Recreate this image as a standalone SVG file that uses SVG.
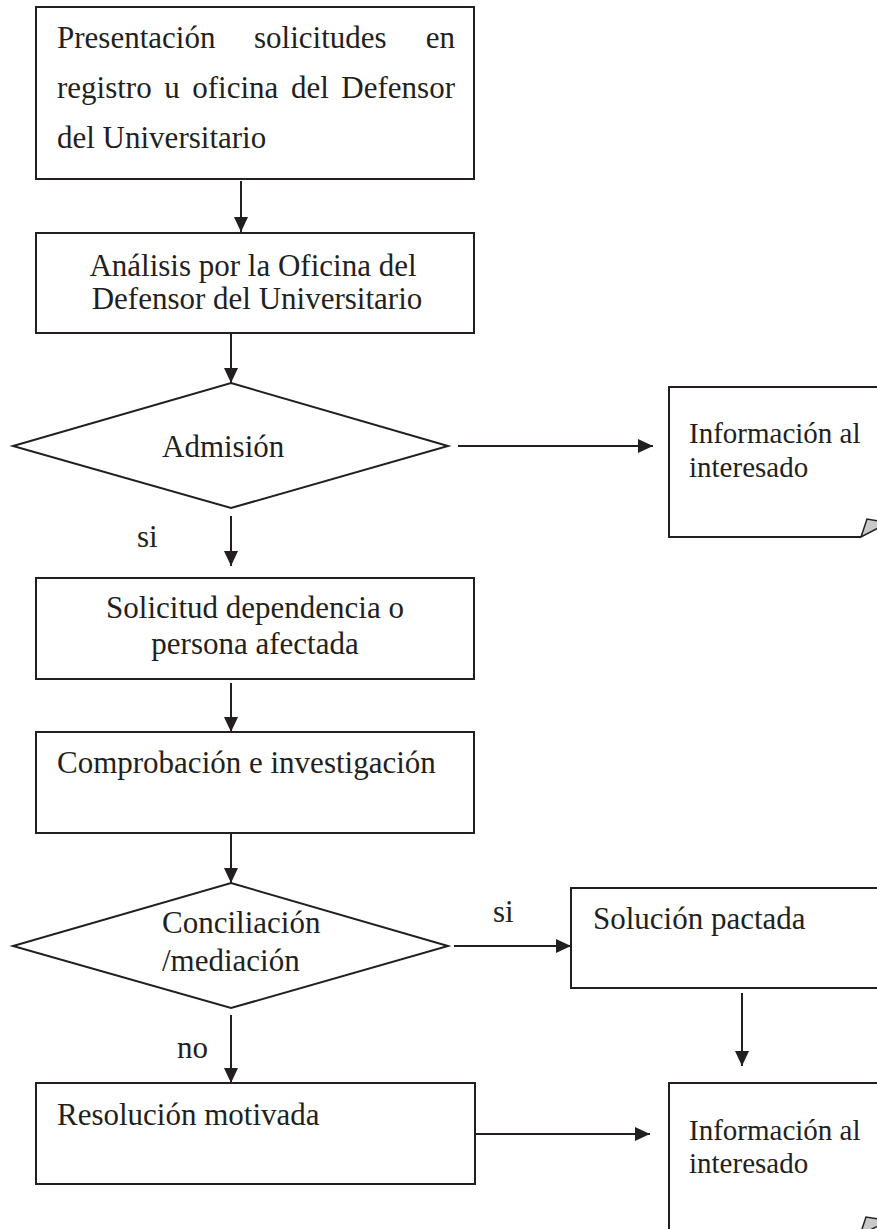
<svg xmlns="http://www.w3.org/2000/svg" width="877" height="1229" viewBox="0 0 877 1229">
<defs>
<style>
.box{fill:#fff;stroke:#231f20;stroke-width:2}
.edge{fill:none;stroke:#231f20;stroke-width:2}
.curl{fill:#c9c9c9;stroke:#231f20;stroke-width:1.5;stroke-linejoin:miter}
.t{font-family:"Liberation Serif","Times New Roman",serif;font-size:31px;fill:#231f20}
.s{font-size:29px}
.c{text-anchor:middle}
</style>
<marker id="arr" markerUnits="userSpaceOnUse" markerWidth="16" markerHeight="16" viewBox="0 0 16 16" refX="15" refY="8" orient="auto">
<path d="M0,1 L15,8 L0,15 Z" fill="#231f20"/>
</marker>
</defs>
<rect width="877" height="1229" fill="#fff"/>

<g id="connectors">
<line class="edge" x1="241" y1="181" x2="241" y2="232" marker-end="url(#arr)"/>
<line class="edge" x1="231" y1="334" x2="231" y2="383" marker-end="url(#arr)"/>
<line class="edge" x1="458" y1="446" x2="653" y2="446" marker-end="url(#arr)"/>
<line class="edge" x1="231" y1="516" x2="231" y2="566" marker-end="url(#arr)"/>
<line class="edge" x1="231" y1="683" x2="231" y2="732" marker-end="url(#arr)"/>
<line class="edge" x1="231" y1="834" x2="231" y2="883" marker-end="url(#arr)"/>
<line class="edge" x1="454" y1="946" x2="571" y2="946" marker-end="url(#arr)"/>
<line class="edge" x1="231" y1="1015" x2="231" y2="1083" marker-end="url(#arr)"/>
<line class="edge" x1="742" y1="993" x2="742" y2="1066" marker-end="url(#arr)"/>
<line class="edge" x1="475" y1="1134" x2="650" y2="1134" marker-end="url(#arr)"/>
<text class="t" x="137" y="547">si</text>
<text class="t" x="493" y="922">si</text>
<text class="t" x="177" y="1058">no</text>
</g>

<g id="n1">
<rect class="box" x="36" y="7" width="438" height="172"/>
<text class="t" x="57" y="48">Presentación</text>
<text class="t" x="254" y="48">solicitudes</text>
<text class="t" x="455" y="48" text-anchor="end">en</text>
<text class="t" x="57" y="98" word-spacing="4.8">registro u oficina del Defensor</text>
<text class="t" x="57" y="148">del Universitario</text>
</g>

<g id="n2">
<rect class="box" x="36" y="233" width="438" height="100"/>
<text class="t c" x="253" y="276">Análisis por la Oficina del</text>
<text class="t c" x="257" y="309">Defensor del Universitario</text>
</g>

<g id="n3">
<polygon class="box" points="231,383 448,446 231,508 13,446"/>
<text class="t" x="162" y="457">Admisión</text>
</g>

<g id="n4">
<path class="box" d="M878,387 L669,387 L669,537 L861,537"/>
<path class="curl" d="M861,537 L867,519 L878,521 L878,528 Z"/>
<text class="t s" x="689" y="443">Información al</text>
<text class="t s" x="689" y="477">interesado</text>
</g>

<g id="n5">
<rect class="box" x="36" y="578" width="438" height="101"/>
<text class="t c" x="255" y="618">Solicitud dependencia o</text>
<text class="t c" x="255" y="654">persona afectada</text>
</g>

<g id="n6">
<rect class="box" x="36" y="732" width="438" height="101"/>
<text class="t" x="57" y="773">Comprobación e investigación</text>
</g>

<g id="n7">
<polygon class="box" points="231,883 448,946 231,1008 13,946"/>
<text class="t" x="162" y="933">Conciliación</text>
<text class="t" x="162" y="971">/mediación</text>
</g>

<g id="n8">
<path class="box" d="M878,888 L571,888 L571,988 L878,988"/>
<text class="t" x="593" y="929">Solución pactada</text>
</g>

<g id="n9">
<rect class="box" x="36" y="1083" width="439" height="101"/>
<text class="t" x="57" y="1125">Resolución motivada</text>
</g>

<g id="n10">
<path class="box" d="M878,1083 L669,1083 L669,1235 L860,1235"/>
<path class="curl" d="M860,1235 L866,1217 L878,1219 L878,1226 Z"/>
<text class="t s" x="689" y="1140">Información al</text>
<text class="t s" x="689" y="1173">interesado</text>
</g>
</svg>
